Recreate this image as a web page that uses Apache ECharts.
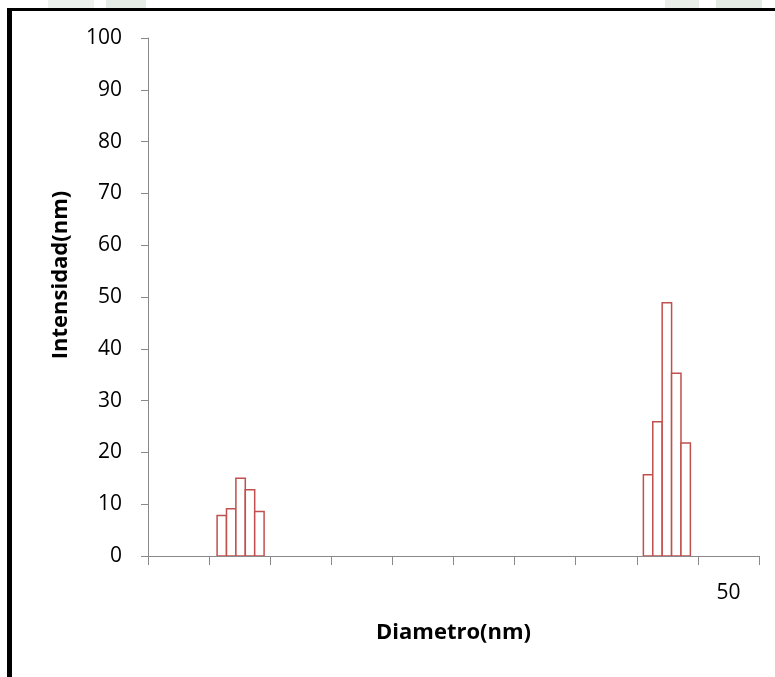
<!DOCTYPE html>
<html>
<head>
<meta charset="utf-8">
<script src="https://cdn.jsdelivr.net/npm/echarts@6/dist/echarts.min.js"></script>
<style>
  html, body { margin: 0; padding: 0; background: #fff; }
  #chart { width: 775px; height: 677px; }
</style>
</head>
<body>
<div id="chart"></div>
<script>
// x axis runs over 65 bin widths, ticks every 6.5 bins; only one label is printed
const X_MAX = 65;
const X_TICK_STEP = 6.5;
const xLabelPos = [61.75];
const xLabelText = ["50"];

// Two populations: bin centre -> intensity
const binCenter = [7.85, 8.85, 9.85, 10.85, 11.85, 53.2, 54.2, 55.2, 56.2, 57.2];
const intensity = [7.8, 9.1, 15.0, 12.8, 8.6, 15.7, 25.9, 48.9, 35.3, 21.8];

const yTicks = [0, 100, 10]; // min, max, step

const BAR_COLOR = "#c0504d";
const AXIS_COLOR = "#898989";
const FONT = "'Open Sans', 'Noto Sans', sans-serif";

const xTickValues = [];
for (let v = 0; v <= X_MAX + 1e-9; v += X_TICK_STEP) xTickValues.push(v);

// bars are one bin wide and share their edges (gap width 0)
function renderBin(params, api) {
  const x = api.value(0);
  const y = api.value(1);
  const p0 = api.coord([x - 0.5, 0]);
  const p1 = api.coord([x + 0.5, y]);
  return {
    type: "rect",
    shape: { x: p0[0], y: p1[1], width: p1[0] - p0[0], height: p0[1] - p1[1] },
    style: { fill: "#ffffff", stroke: BAR_COLOR, lineWidth: 1.5 },
  };
}

const chart = echarts.init(document.getElementById("chart"), null, { renderer: "canvas" });

chart.setOption({
  backgroundColor: "#ffffff",
  animation: false,
  graphic: [
    // faint watermark traces above the frame (scan)
    { type: "rect", shape: { x: 48, y: 0, width: 46, height: 8 }, style: { fill: "#eef2ee" } },
    { type: "rect", shape: { x: 106, y: 0, width: 40, height: 8 }, style: { fill: "#e6ece6" } },
    { type: "rect", shape: { x: 665, y: 0, width: 34, height: 8 }, style: { fill: "#e9eee9" } },
    { type: "rect", shape: { x: 716, y: 0, width: 46, height: 8 }, style: { fill: "#e4eae4" } },
    // frame lines of the scanned figure
    { type: "rect", shape: { x: 7, y: 8, width: 768, height: 3 }, style: { fill: "#000" } },
    { type: "rect", shape: { x: 7, y: 8, width: 5, height: 669 }, style: { fill: "#000" } },
  ],
  grid: { left: 148, right: 16, top: 38, bottom: 121 },
  xAxis: {
    type: "value",
    min: 0,
    max: X_MAX,
    z: 5,
    name: "Diametro(nm)",
    nameLocation: "middle",
    nameGap: 66,
    nameTextStyle: { color: "#000", fontFamily: FONT, fontSize: 22, fontWeight: "bold" },
    axisLine: { show: true, lineStyle: { color: AXIS_COLOR, width: 1 } },
    axisTick: {
      show: true,
      customValues: xTickValues,
      length: 9,
      lineStyle: { color: AXIS_COLOR, width: 1 },
    },
    axisLabel: {
      customValues: xLabelPos,
      formatter: (v) => {
        const k = xLabelPos.findIndex((p) => Math.abs(p - v) < 1e-6);
        return k >= 0 ? xLabelText[k] : "";
      },
      margin: 27,
      color: "#000",
      fontFamily: FONT,
      fontSize: 21,
    },
    splitLine: { show: false },
  },
  yAxis: {
    type: "value",
    min: yTicks[0],
    max: yTicks[1],
    interval: yTicks[2],
    name: "Intensidad(nm)",
    nameLocation: "middle",
    nameGap: 76,
    nameTextStyle: { color: "#000", fontFamily: FONT, fontSize: 22, fontWeight: "bold", padding: [0, 0, 0, 44] },
    axisLine: { show: true, lineStyle: { color: AXIS_COLOR, width: 1 } },
    axisTick: { show: true, length: 7, lineStyle: { color: AXIS_COLOR, width: 1 } },
    axisLabel: { margin: 26, color: "#000", fontFamily: FONT, fontSize: 21 },
    splitLine: { show: false },
  },
  series: [
    {
      type: "custom",
      renderItem: renderBin,
      encode: { x: 0, y: 1 },
      data: binCenter.map((x, i) => [x, intensity[i]]),
      silent: true,
    },
  ],
});
</script>
</body>
</html>
